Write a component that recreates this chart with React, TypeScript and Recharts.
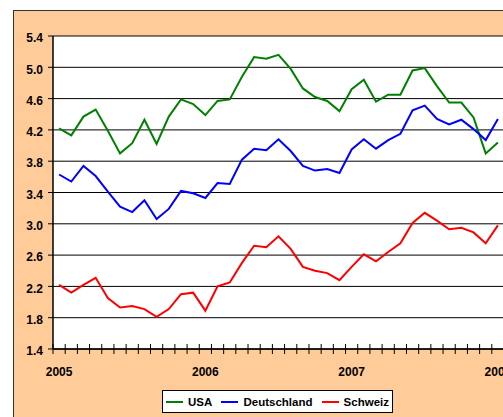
import { CartesianGrid, Line, LineChart, XAxis, YAxis } from "recharts";

// monthly values, Jan 2005 .. Jan 2008
const usa = [
  4.22, 4.13, 4.37, 4.46, 4.19, 3.9, 4.03, 4.33, 4.02, 4.37, 4.59, 4.53,
  4.39, 4.57, 4.59, 4.88, 5.13, 5.11, 5.16, 4.98, 4.73, 4.62, 4.57, 4.44,
  4.72, 4.84, 4.56, 4.65, 4.65, 4.96, 4.99, 4.76, 4.55, 4.55, 4.36, 3.9,
  4.04,
];
const deutschland = [
  3.63, 3.54, 3.74, 3.61, 3.41, 3.22, 3.15, 3.3, 3.06, 3.19, 3.42, 3.39,
  3.33, 3.52, 3.51, 3.82, 3.96, 3.94, 4.08, 3.93, 3.74, 3.68, 3.7, 3.65,
  3.95, 4.08, 3.96, 4.07, 4.15, 4.45, 4.51, 4.34, 4.27, 4.33, 4.21, 4.07,
  4.34,
];
const schweiz = [
  2.22, 2.12, 2.22, 2.31, 2.05, 1.93, 1.95, 1.91, 1.81, 1.91, 2.1, 2.12,
  1.89, 2.2, 2.25, 2.5, 2.72, 2.7, 2.84, 2.68, 2.45, 2.4, 2.37, 2.28,
  2.45, 2.61, 2.52, 2.64, 2.75, 3.01, 3.14, 3.04, 2.93, 2.95, 2.89, 2.75,
  2.98,
];
const years = ["2005", "2006", "2007", "2008"];
const yTicks = [1.4, 1.8, 2.2, 2.6, 3.0, 3.4, 3.8, 4.2, 4.6, 5.0, 5.4];

const series = [
  { key: "USA", color: "#008000" },
  { key: "Deutschland", color: "#0000ff" },
  { key: "Schweiz", color: "#ff0000" },
];

const data = usa.map((v, i) => ({
  i,
  USA: v,
  Deutschland: deutschland[i],
  Schweiz: schweiz[i],
}));

// tick marks sit between months, year labels on January
const boundaries = Array.from({ length: usa.length + 1 }, (_, k) => k - 0.5);
const yearPos = years.map((_, k) => k * 12);
const xTicks = [...boundaries, ...yearPos].sort((a, b) => a - b);

const font = "'Liberation Sans', Arial, sans-serif";

function XTick(props: any) {
  const { x, y, payload } = props;
  const v = payload.value as number;
  if (Number.isInteger(v)) {
    const label = years[v / 12];
    return (
      <text x={x} y={y + 27} textAnchor="middle" fontFamily={font} fontSize={12} fontWeight="bold" fill="#000">
        {label}
      </text>
    );
  }
  return <line x1={x} x2={x} y1={y - 5} y2={y + 5} stroke="#000" strokeWidth={1} />;
}

export default function App() {
  return (
    <div style={{ position: "relative", width: 503, height: 417, overflow: "hidden", background: "#fff" }}>
      <style>{"body{margin:0;overflow:hidden}"}</style>
      <div
        style={{
          position: "absolute",
          left: 13,
          top: 10,
          width: 600,
          height: 500,
          background: "#ffcc99",
          border: "1.5px solid #333",
        }}
      />
      <div style={{ position: "absolute", left: 0, top: 0 }}>
        <LineChart
          width={600}
          height={417}
          data={data}
          margin={{ top: 36, left: 13, right: 96, bottom: 38 }}
        >
          <CartesianGrid vertical={false} stroke="#000" fill="#fff" fillOpacity={1} />
          <XAxis
            dataKey="i"
            type="number"
            domain={[-0.5, usa.length - 0.5]}
            ticks={xTicks}
            interval={0}
            tickLine={false}
            tickSize={0}
            tickMargin={0}
            height={30}
            axisLine={{ stroke: "#000", strokeWidth: 1.5 }}
            tick={<XTick />}
          />
          <YAxis
            domain={[1.4, 5.4]}
            ticks={yTicks}
            interval={0}
            width={40}
            tickSize={5}
            tickMargin={5}
            tickLine={{ stroke: "#000" }}
            axisLine={{ stroke: "#000", strokeWidth: 1.5 }}
            tickFormatter={(v: number) => v.toFixed(1)}
            tick={{ fill: "#000", fontFamily: font, fontSize: 12, fontWeight: "bold", dy: 2 }}
          />
          {series.map((s) => (
            <Line
              key={s.key}
              type="linear"
              dataKey={s.key}
              stroke={s.color}
              strokeWidth={2}
              dot={false}
              isAnimationActive={false}
            />
          ))}
        </LineChart>
      </div>
      <div
        style={{
          position: "absolute",
          left: 162,
          top: 390,
          width: 231,
          height: 23,
          padding: "0 3px",
          background: "#fff",
          border: "1px solid #000",
          display: "flex",
          alignItems: "center",
          justifyContent: "space-between",
          fontFamily: font,
          fontSize: 11.5,
          fontWeight: "bold",
          color: "#000",
          boxSizing: "border-box",
          whiteSpace: "nowrap",
        }}
      >
        {series.map((s) => (
          <div key={s.key} style={{ display: "flex", alignItems: "center" }}>
            <div style={{ width: 17, height: 2, background: s.color, marginRight: 5 }} />
            <span>{s.key}</span>
          </div>
        ))}
      </div>
    </div>
  );
}
